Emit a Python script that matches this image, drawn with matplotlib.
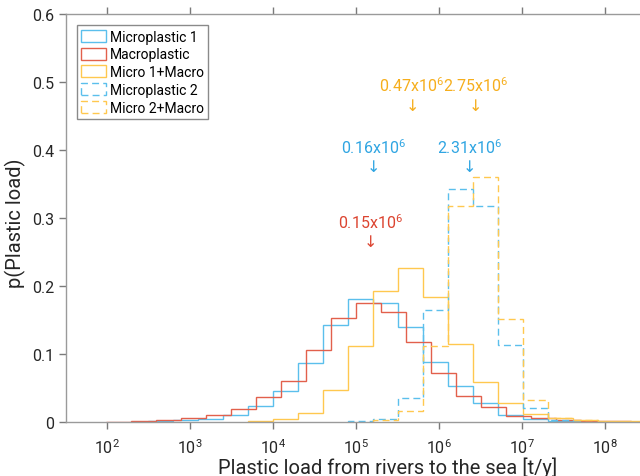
import matplotlib
matplotlib.use('Agg')
import matplotlib.pyplot as plt
from matplotlib.patches import Patch
from matplotlib.ticker import FixedLocator, FixedFormatter, NullLocator

plt.rcParams['font.family'] = ['Roboto', 'DejaVu Sans']
plt.rcParams['mathtext.fontset'] = 'custom'
plt.rcParams['mathtext.rm'] = 'Roboto'
plt.rcParams['mathtext.it'] = 'Roboto:italic'
plt.rcParams['mathtext.bf'] = 'Roboto:bold'

# bin edges (factor-2 bins, two offset grids)
edges_a = [312.5, 625, 1250, 2500, 5000, 1e4, 2e4, 4e4, 8e4, 1.6e5, 3.2e5,
           6.4e5, 1.28e6, 2.56e6, 5.12e6, 1.024e7, 2.048e7, 4.096e7, 8.192e7]
edges_b = [97.66, 195.3, 390.6, 781.25, 1562.5, 3125, 6250, 12500, 25000, 50000, 1e5,
           2e5, 4e5, 8e5, 1.6e6, 3.2e6, 6.4e6, 1.28e7, 2.56e7, 5.12e7, 1.024e8, 2.048e8]
edges_c = [5000, 1e4, 2e4, 4e4, 8e4, 1.6e5, 3.2e5, 6.4e5, 1.28e6, 2.56e6, 5.12e6,
           1.024e7, 2.048e7, 4.096e7, 8.192e7, 1.6384e8, 3.2768e8]
edges_d = [8e4, 1.6e5, 3.2e5, 6.4e5, 1.28e6, 2.56e6, 5.12e6, 1.024e7, 2.048e7, 4.096e7]
edges_e = [1.6e5, 3.2e5, 6.4e5, 1.28e6, 2.56e6, 5.12e6, 1.024e7, 2.048e7, 4.096e7, 8.192e7]

micro1 = [0.001, 0.002, 0.004, 0.0103, 0.023, 0.045, 0.087, 0.143, 0.181, 0.174,
          0.139, 0.0885, 0.052, 0.0276, 0.0103, 0.004, 0.001, 0.0005]
macro = [0.0003, 0.0008, 0.002, 0.0055, 0.0103, 0.019, 0.036, 0.0605, 0.106, 0.153,
         0.175, 0.161, 0.117, 0.071, 0.038, 0.021, 0.009, 0.005, 0.002, 0.001, 0.0005]
micro1_macro = [0.001, 0.0035, 0.013, 0.0467, 0.111, 0.192, 0.2257, 0.184, 0.114,
                0.059, 0.0276, 0.0114, 0.006, 0.003, 0.001, 0.0005]
micro2 = [0.001, 0.004, 0.035, 0.164, 0.343, 0.318, 0.113, 0.0198, 0.002]
micro2_macro = [0.002, 0.016, 0.112, 0.318, 0.36, 0.151, 0.032, 0.006, 0.002]

labels = ['Microplastic 1', 'Macroplastic', 'Micro 1+Macro', 'Microplastic 2', 'Micro 2+Macro']

# medians marked with arrows
ann_x = [0.15e6, 0.16e6, 2.31e6, 0.47e6, 2.75e6]
ann_txt = ['0.15x10$^{6}$', '0.16x10$^{6}$', '2.31x10$^{6}$', '0.47x10$^{6}$', '2.75x10$^{6}$']
ann_y = [0.295, 0.405, 0.405, 0.496, 0.496]

blue = '#5BBFEC'
red = '#E2604C'
yellow = '#FFC84F'
blue_t = '#2FA5E2'
red_t = '#DC4430'
yellow_t = '#F6AE1C'
ann_col = [red_t, blue_t, blue_t, yellow_t, yellow_t]

fig = plt.figure(figsize=(6.4, 4.77), dpi=100)
ax = fig.add_axes([0.1027, 0.1138, 0.9077, 0.8547])

dash = (0, (5, 3))
ax.stairs(micro1, edges_a, color=blue, lw=1.0)
ax.stairs(macro, edges_b, color=red, lw=1.0)
ax.stairs(micro1_macro, edges_c, color=yellow, lw=1.0)
ax.stairs(micro2, edges_d, color=blue, lw=1.0, ls=dash)
ax.stairs(micro2_macro, edges_e, color=yellow, lw=1.0, ls=dash)

for x, t, y, c in zip(ann_x, ann_txt, ann_y, ann_col):
    ax.text(x, y, t, color=c, fontsize=11.5, ha='center', va='center')
    ax.text(x, y - 0.03, '\u2193', color=c, fontsize=11.5, ha='center', va='center',
            family=['DejaVu Sans'])

ax.set_xscale('log')
ax.set_xlim(10 ** 1.5, 10 ** 8.5)
ax.set_ylim(0, 0.6)

xt = [1e2, 1e3, 1e4, 1e5, 1e6, 1e7, 1e8]
ax.xaxis.set_major_locator(FixedLocator(xt))
ax.xaxis.set_major_formatter(FixedFormatter(['$\\mathregular{10^{%d}}$' % e for e in range(2, 9)]))
ax.xaxis.set_minor_locator(NullLocator())
ax.set_yticks([0, 0.1, 0.2, 0.3, 0.4, 0.5, 0.6])
ax.set_yticklabels(['0', '0.1', '0.2', '0.3', '0.4', '0.5', '0.6'])

spine_c = '#9a9a9a'
for s in ax.spines.values():
    s.set_color(spine_c)
    s.set_linewidth(1.0)
ax.spines['right'].set_visible(False)
ax.tick_params(direction='out', length=5, width=1.0, color='#7a7a7a',
               labelcolor='#262626', labelsize=11.5, top=True, right=False)
ax.tick_params(axis='x', pad=6)

ax.set_xlabel('Plastic load from rivers to the sea [t/y]', fontsize=14.5, color='#262626')
ax.set_ylabel('p(Plastic load)', fontsize=14.5, color='#262626')
ax.xaxis.set_label_coords(0.554, -0.111)
ax.yaxis.set_label_coords(-0.087, 0.49)
ax.xaxis.label.set_va('center')
ax.yaxis.label.set_va('center')

handles = [Patch(facecolor='none', edgecolor=blue, lw=1.0),
           Patch(facecolor='none', edgecolor=red, lw=1.0),
           Patch(facecolor='none', edgecolor=yellow, lw=1.0),
           Patch(facecolor='none', edgecolor=blue, lw=1.0, ls=dash),
           Patch(facecolor='none', edgecolor=yellow, lw=1.0, ls=dash)]
leg = ax.legend(handles, labels, loc='upper left', bbox_to_anchor=(0.019, 0.972),
                fontsize=10, fancybox=False, framealpha=1, edgecolor='#8a8a8a',
                handlelength=1.8, handleheight=0.95, handletextpad=0.3,
                labelspacing=0.27, borderpad=0.3, borderaxespad=0.0)
leg.get_frame().set_linewidth(1.0)

fig.savefig('out.png', dpi=100)
